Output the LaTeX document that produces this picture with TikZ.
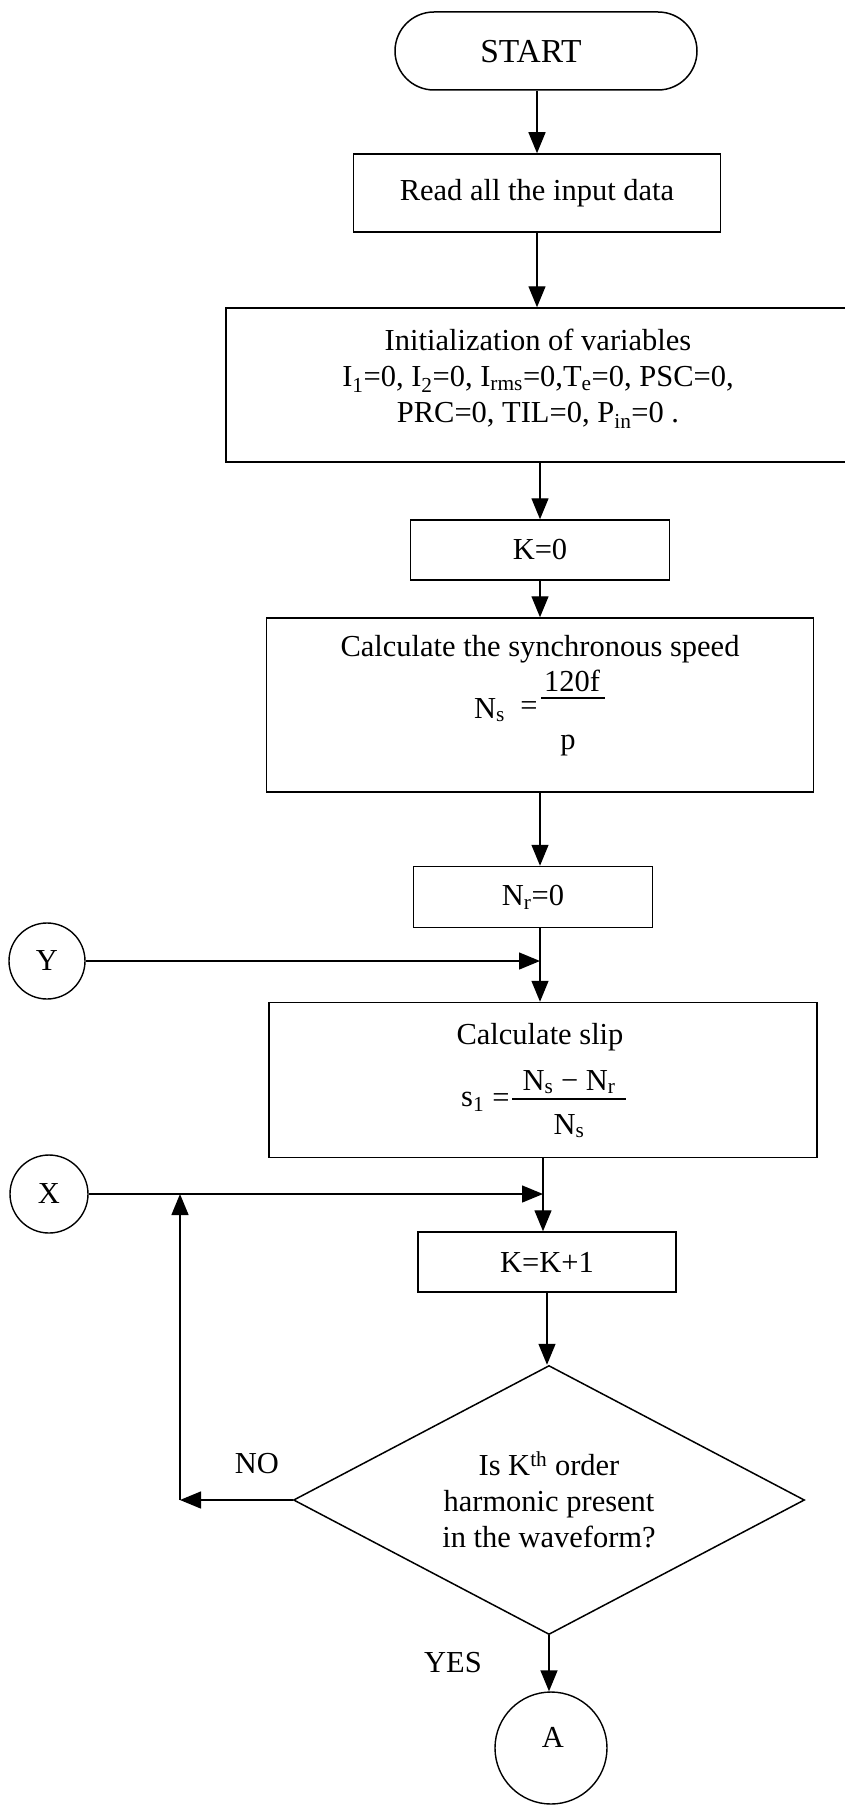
\documentclass[tikz,border=0pt]{standalone}
\usepackage{fontspec}
\setmainfont{Liberation Serif}
\usetikzlibrary{arrows.meta,shapes.geometric}
\begin{document}
\begin{tikzpicture}[x=1pt,y=-1pt,
  every node/.style={font=\fontsize{30.5}{36}\selectfont},
  box/.style={draw, line width=1.5pt, inner sep=0pt, align=center},
  conn/.style={draw, circle, line width=1.4pt, inner sep=0pt},
  arr/.style={line width=1.4pt, -{Triangle[length=21pt,width=17pt]}},
  bar/.style={line width=1.3pt},
  lbl/.style={inner sep=0pt, align=center}]
\useasboundingbox (0,0) rectangle (844,1806);
% START terminator
\node[box, rounded corners=39pt, minimum width=302pt, minimum height=78pt] (start) at (546,51) {};
\node[lbl, font=\fontsize{33.5}{40}\selectfont] (startt) at (531,52) {START};
% read
\node[box, minimum width=367pt, minimum height=78pt] (read) at (537,193) {Read all the input data};
% init
\node[box, minimum width=624pt, minimum height=154pt] (init) at (538,385) {};
\node[lbl] (initt) at (538,379)
  {Initialization of variables\\
   I\textsubscript{1}=0, I\textsubscript{2}=0, I\textsubscript{rms}=0,T\textsubscript{e}=0, PSC=0,\\
   PRC=0, TIL=0, P\textsubscript{in}=0 .};
\node[box, minimum width=259pt, minimum height=60pt] (k0) at (540,550) {K=0};
% synchronous speed
\node[box, minimum width=547pt, minimum height=174pt] (sync) at (540,705) {};
\node[lbl, anchor=base] (synct) at (540,656) {Calculate the synchronous speed};
\node[lbl, anchor=base west] (ns) at (474,718) {N\textsubscript{s}};
\node[lbl, anchor=base] (eqa) at (529,715) {=};
\node[lbl, anchor=base] (numa) at (572,691) {120f};
\node[lbl, anchor=base] (dena) at (568,749) {p};
\draw[bar] (541,698) -- (605,698);
% Nr
\node[box, minimum width=239pt, minimum height=61pt] (nr) at (533,897) {N\textsubscript{r}=0};
\node[conn, minimum size=76pt] (Y) at (47,961) {Y};
% slip
\node[box, minimum width=548pt, minimum height=155pt] (slip) at (543,1080) {};
\node[lbl, anchor=base] (slipt) at (540,1044) {Calculate slip};
\node[lbl, anchor=base west] (s1) at (461,1106) {s\textsubscript{1}};
\node[lbl, anchor=base] (eqb) at (501,1107) {=};
\node[lbl, anchor=base] (numb) at (569,1090) {N\textsubscript{s} − N\textsubscript{r}};
\node[lbl, anchor=base] (denb) at (569,1134) {N\textsubscript{s}};
\draw[bar] (512,1099) -- (626,1099);
\node[conn, minimum size=78pt] (X) at (49,1194) {X};
% K=K+1
\node[box, minimum width=258pt, minimum height=60pt] (k1) at (547,1262) {K=K+1};
% decision
\node[box, diamond, aspect=1.9, minimum width=511pt, minimum height=269pt] (dia) at (549,1500)
  {Is K\textsuperscript{th} order\\harmonic present\\in the waveform?};
\node[conn, minimum size=112pt] (A) at (551,1748) {};
\node[lbl] (At) at (553,1737) {A};
\node[lbl] (no) at (257,1464) {NO};
\node[lbl] (yes) at (453,1663) {YES};
\coordinate (corner) at (180,1500);
% connectors
\draw[arr] (start.south -| read.north) -- (read.north);
\draw[arr] (read.south) -- (read.south |- init.north);
\draw[arr] (k0.north |- init.south) -- (k0.north);
\draw[arr] (k0.south) -- (sync.north);
\draw[arr] (sync.south) -- (sync.south |- nr.north);
\draw[arr] (sync.south |- nr.south) -- (sync.south |- slip.north);
\draw[arr] (Y.east) -- (Y.east -| sync.south);
\draw[arr] (slip.south) -- (slip.south |- k1.north);
\draw[arr] (X.east) -- (X.east -| slip.south);
\draw[arr] (k1.south) -- (k1.south |- dia.north);
\draw[arr] (dia.west) -- (corner);
\draw[arr] (corner) -- (corner |- X.east);
\draw[arr] (dia.south) -- (dia.south |- A.north);
\end{tikzpicture}
\end{document}
